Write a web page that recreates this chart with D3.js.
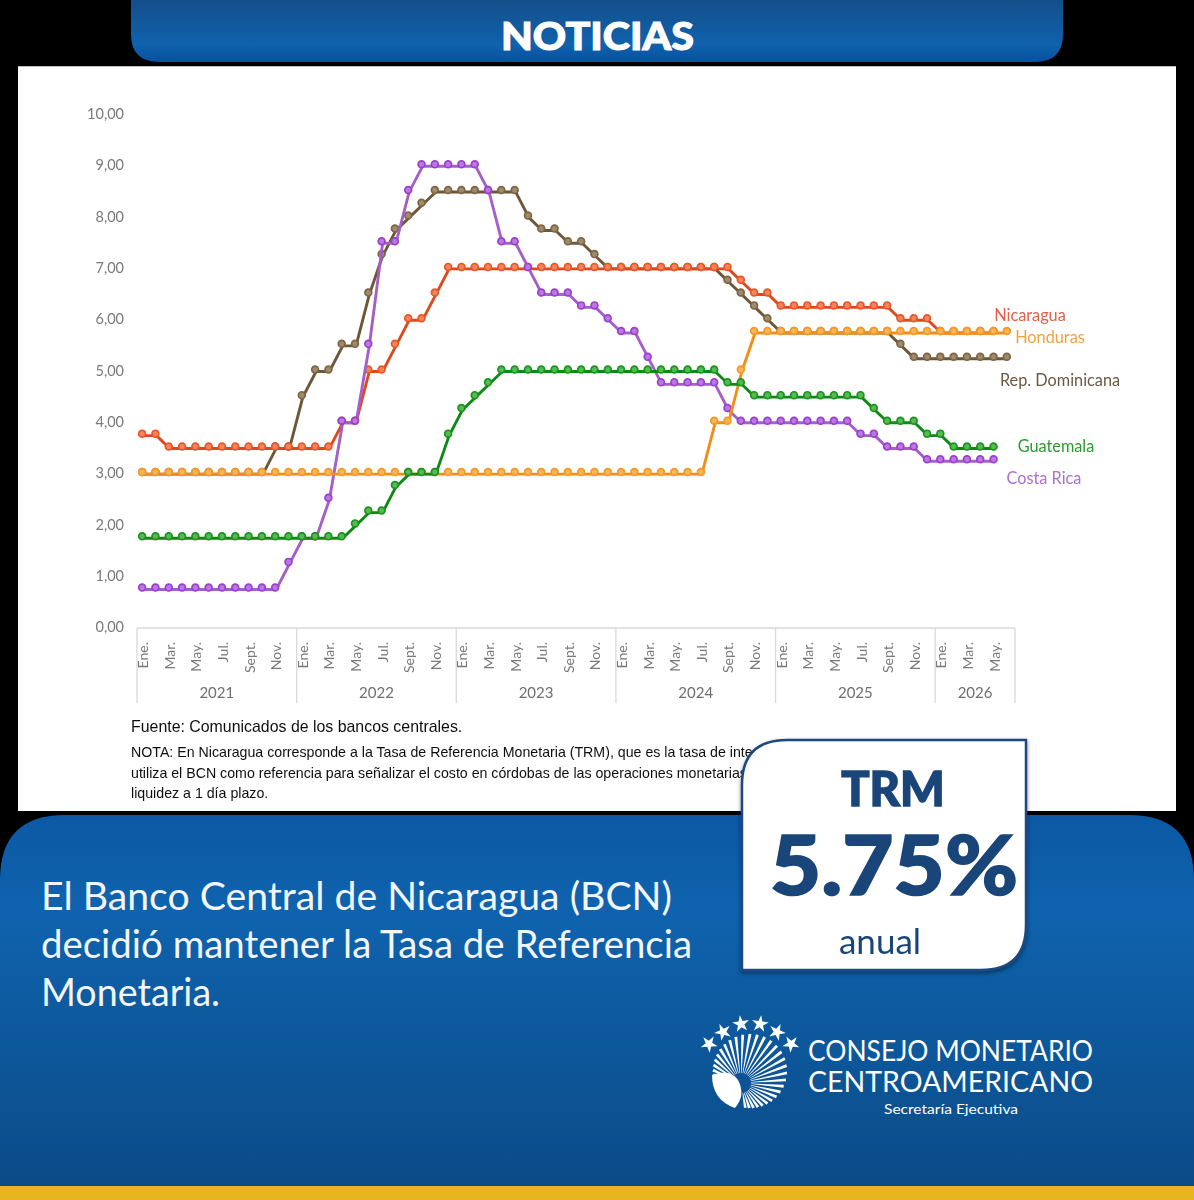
<!DOCTYPE html>
<html lang="es">
<head>
<meta charset="utf-8">
<title>Tasa de Referencia Monetaria</title>
<script src="https://cdn.jsdelivr.net/npm/d3@7/dist/d3.min.js"></script>
<style>
html,body{margin:0;padding:0;background:#000;}
svg{display:block;}
</style>
</head>
<body>
<div id="chart"></div>
<script>
const years = [2021, 2022, 2023, 2024, 2025, 2026];
const monthNames = ["Ene.", "Feb.", "Mar.", "Abr.", "May.", "Jun.", "Jul.", "Ago.", "Sept.", "Oct.", "Nov.", "Dic."];
const monthsInYear = [12, 12, 12, 12, 12, 6];
const yTicks = [0, 1, 2, 3, 4, 5, 6, 7, 8, 9, 10];

const repDominicana = [
  3,3,3,3,3,3,3,3,3,3,3.5,3.5,
  4.5,5,5,5.5,5.5,6.5,7.25,7.75,8,8.25,8.5,8.5,
  8.5,8.5,8.5,8.5,8.5,8,7.75,7.75,7.5,7.5,7.25,7,
  7,7,7,7,7,7,7,7,6.75,6.5,6.25,6,
  5.75,5.75,5.75,5.75,5.75,5.75,5.75,5.75,5.75,5.5,5.25,5.25,
  5.25,5.25,5.25,5.25,5.25,5.25];
const nicaragua = [
  3.75,3.75,3.5,3.5,3.5,3.5,3.5,3.5,3.5,3.5,3.5,3.5,
  3.5,3.5,3.5,4,4,5,5,5.5,6,6,6.5,7,
  7,7,7,7,7,7,7,7,7,7,7,7,
  7,7,7,7,7,7,7,7,7,6.75,6.5,6.5,
  6.25,6.25,6.25,6.25,6.25,6.25,6.25,6.25,6.25,6,6,6,
  5.75,5.75,5.75,5.75,5.75,null];
const costaRica = [
  0.75,0.75,0.75,0.75,0.75,0.75,0.75,0.75,0.75,0.75,0.75,1.25,
  1.75,1.75,2.5,4,4,5.5,7.5,7.5,8.5,9,9,9,
  9,9,8.5,7.5,7.5,7,6.5,6.5,6.5,6.25,6.25,6,
  5.75,5.75,5.25,4.75,4.75,4.75,4.75,4.75,4.25,4,4,4,
  4,4,4,4,4,4,3.75,3.75,3.5,3.5,3.5,3.25,
  3.25,3.25,3.25,3.25,3.25,null];
const honduras = [
  3,3,3,3,3,3,3,3,3,3,3,3,
  3,3,3,3,3,3,3,3,3,3,3,3,
  3,3,3,3,3,3,3,3,3,3,3,3,
  3,3,3,3,3,3,3,4,4,5,5.75,5.75,
  5.75,5.75,5.75,5.75,5.75,5.75,5.75,5.75,5.75,5.75,5.75,5.75,
  5.75,5.75,5.75,5.75,5.75,5.75];
const guatemala = [
  1.75,1.75,1.75,1.75,1.75,1.75,1.75,1.75,1.75,1.75,1.75,1.75,
  1.75,1.75,1.75,1.75,2,2.25,2.25,2.75,3,3,3,3.75,
  4.25,4.5,4.75,5,5,5,5,5,5,5,5,5,
  5,5,5,5,5,5,5,5,4.75,4.75,4.5,4.5,
  4.5,4.5,4.5,4.5,4.5,4.5,4.5,4.25,4,4,4,3.75,
  3.75,3.5,3.5,3.5,3.5,null];

const seriesNames = ["Rep. Dominicana", "Nicaragua", "Costa Rica", "Honduras", "Guatemala"];
const seriesValues = [repDominicana, nicaragua, costaRica, honduras, guatemala];
const lineColors = ["#6e5637", "#dd4a1f", "#a45fc9", "#f28e16", "#0f8a14"];
const dotStroke = ["#7d6546", "#e9562b", "#9a3fd0", "#f39a22", "#1c931f"];
const dotFill = ["#a08a6a", "#f4845a", "#bb78e0", "#f9b45c", "#55b955"];
const labelColors = ["#6b5a44", "#e4604a", "#ab70d0", "#f3a13a", "#2b9a2b"];
const labelPos = [[1060, 381], [1030, 316], [1044, 479], [1050, 338], [1056, 447]];

const headline = "NOTICIAS";
const bodyLines = ["El Banco Central de Nicaragua (BCN)", "decidió mantener la Tasa de Referencia", "Monetaria."];
const bodyWidths = [631, 651, 179];
const fuente = "Fuente: Comunicados de los bancos centrales.";
const nota = [
  "NOTA: En Nicaragua corresponde a la Tasa de Referencia Monetaria (TRM), que es la tasa de interés",
  "utiliza el BCN como referencia para señalizar el costo en córdobas de las operaciones monetarias",
  "liquidez a 1 día plazo."
];

const categories = [];
years.forEach((yr, yi) => d3.range(monthsInYear[yi]).forEach(m => categories.push({key: yr + "-" + m, year: yr, month: m})));

const svg = d3.select("#chart").append("svg").attr("width", 1194).attr("height", 1200).attr("viewBox", "0 0 1194 1200");
const defs = svg.append("defs");

function grad(id, stops) {
  const g = defs.append("linearGradient").attr("id", id).attr("x1", 0).attr("y1", 0).attr("x2", 0).attr("y2", 1);
  stops.forEach(s => g.append("stop").attr("offset", s[0]).attr("stop-color", s[1]));
}
grad("tab", [[0, "#144f8a"], [0.72, "#0f62ad"], [1, "#0a4f9f"]]);
grad("panel", [[0, "#0c58a4"], [0.25, "#0f63ae"], [1, "#0b4b87"]]);
const soft = defs.append("filter").attr("id", "soft").attr("x", "-2%").attr("y", "-2%").attr("width", "104%").attr("height", "104%");
soft.append("feGaussianBlur").attr("stdDeviation", 0.35);
const shadow = defs.append("filter").attr("id", "shadow").attr("x", "-5%").attr("y", "-5%").attr("width", "110%").attr("height", "110%");
shadow.append("feDropShadow").attr("dx", 0).attr("dy", 2).attr("stdDeviation", 2).attr("flood-color", "#000").attr("flood-opacity", 0.45);

// page frame
svg.append("rect").attr("width", 1194).attr("height", 1200).attr("fill", "#000");
svg.append("path").attr("fill", "url(#tab)")
  .attr("d", "M131,0H1063V34Q1063,62 1035,62H159Q131,62 131,34Z");
svg.append("rect").attr("x", 18).attr("y", 66).attr("width", 1158).attr("height", 745).attr("fill", "#fff");
svg.append("line").attr("x1", 18).attr("x2", 1176).attr("y1", 66.5).attr("y2", 66.5).attr("stroke", "#bdbdbd");
svg.append("path").attr("fill", "url(#panel)")
  .attr("d", "M0,1186V880Q0,815 65,815H1129Q1194,815 1194,880V1186Z");
svg.append("rect").attr("x", 0).attr("y", 1186).attr("width", 1194).attr("height", 14).attr("fill", "#e8b41f");

svg.append("text").attr("x", 501).attr("y", 50)
  .attr("textLength", 193).attr("lengthAdjust", "spacingAndGlyphs")
  .attr("font-family", "Lato").attr("font-weight", 900).attr("font-size", 37)
  .attr("fill", "#fff").attr("stroke", "#fff").attr("stroke-width", 1).text(headline);

// chart
const x = d3.scaleBand().domain(categories.map(c => c.key)).range([137, 1015]);
const y = d3.scaleLinear().domain([0, 10]).range([627, 114]);
const chart = svg.append("g").attr("filter", "url(#soft)");

const yAxis = d3.axisLeft(y).tickValues(yTicks).tickSize(0).tickPadding(0)
  .tickFormat(d => d3.format(".2f")(d).replace(".", ","));
const yG = chart.append("g").attr("transform", "translate(124,0)").call(yAxis);
yG.select(".domain").remove();
yG.selectAll("text").attr("font-family", "Lato").attr("font-size", 14.5).attr("fill", "#7a7a7a");

// category axis
const axisTop = 628, axisBottom = 703;
chart.append("line").attr("x1", 137).attr("x2", 1015).attr("y1", axisTop).attr("y2", axisTop).attr("stroke", "#d9d9d9").attr("stroke-width", 1.3);
const firstIdx = years.map(yr => categories.findIndex(c => c.year === yr));
const boundaries = firstIdx.map(i => x(categories[i].key)).concat([1015]);
chart.append("g").selectAll("line").data(boundaries).join("line")
  .attr("x1", d => d).attr("x2", d => d).attr("y1", axisTop).attr("y2", axisBottom)
  .attr("stroke", "#d9d9d9").attr("stroke-width", 1.3);
chart.append("g").selectAll("text").data(years).join("text")
  .attr("x", (d, i) => (boundaries[i] + boundaries[i + 1]) / 2).attr("y", 698)
  .attr("text-anchor", "middle").attr("font-family", "Lato").attr("font-size", 15).attr("fill", "#6f6f6f").text(d => d);
chart.append("g").selectAll("text").data(categories.filter(c => c.month % 2 === 0)).join("text")
  .attr("transform", d => `translate(${x(d.key) + x.bandwidth() / 2 + 4.5},642) rotate(-90)`)
  .attr("text-anchor", "end").attr("font-family", "Lato").attr("font-size", 14).attr("fill", "#7a7a7a")
  .text(d => monthNames[d.month]);

// series
const line = d3.line().defined(d => d != null).x((d, i) => x(categories[i].key) + x.bandwidth() / 2).y(d => y(d));
seriesValues.forEach((vals, s) => {
  const g = chart.append("g").attr("class", "series");
  g.append("path").datum(vals).attr("d", line).attr("transform", "translate(-0.5,1)")
    .attr("fill", "none").attr("stroke", lineColors[s]).attr("stroke-width", 2.9).attr("stroke-linejoin", "round");
  g.append("g").attr("transform", "translate(-1.5,-1)").selectAll("circle")
    .data(vals.map((v, i) => ({v, i})).filter(d => d.v != null)).join("circle")
    .attr("cx", d => x(categories[d.i].key) + x.bandwidth() / 2).attr("cy", d => y(d.v)).attr("r", 3.4)
    .attr("fill", dotFill[s]).attr("stroke", dotStroke[s]).attr("stroke-width", 1.7);
});
chart.append("g").selectAll("text").data(seriesNames).join("text")
  .attr("x", (d, i) => labelPos[i][0]).attr("y", (d, i) => labelPos[i][1] + 5)
  .attr("text-anchor", "middle").attr("font-family", "Lato").attr("font-size", 16.3)
  .attr("fill", (d, i) => labelColors[i]).text(d => d);

// notes
chart.append("text").attr("x", 131).attr("y", 732).attr("font-family", "Liberation Sans").attr("font-size", 15.9).attr("fill", "#111").text(fuente);
chart.append("g").selectAll("text").data(nota).join("text")
  .attr("x", 131).attr("y", (d, i) => [757, 778, 798][i]).attr("font-family", "Liberation Sans").attr("font-size", 14.2).attr("fill", "#111").text(d => d);

// body text
svg.append("g").selectAll("text").data(bodyLines).join("text")
  .attr("x", 41).attr("y", (d, i) => 910 + i * 48).attr("textLength", (d, i) => bodyWidths[i]).attr("lengthAdjust", "spacingAndGlyphs")
  .attr("font-family", "Lato").attr("font-size", 38).attr("fill", "#f2f6fb").text(d => d);

// callout
svg.append("path").attr("filter", "url(#shadow)").attr("fill", "#fff").attr("stroke", "#1c4a80").attr("stroke-width", 2.5)
  .attr("d", "M742,785Q742,740 787,740H1026V925Q1026,970 981,970H742Z");
const navy = "#1a4579";
svg.append("text").attr("x", 893).attr("y", 806).attr("text-anchor", "middle").attr("font-family", "Lato").attr("font-weight", 900).attr("font-size", 47)
  .attr("fill", navy).attr("stroke", navy).attr("stroke-width", 1.4).text("TRM");
svg.append("text").attr("x", 770).attr("y", 895).attr("textLength", 248).attr("lengthAdjust", "spacingAndGlyphs").attr("font-family", "Lato").attr("font-weight", 900).attr("font-size", 82)
  .attr("fill", navy).attr("stroke", navy).attr("stroke-width", 1.6).text("5.75%");
svg.append("text").attr("x", 880).attr("y", 954).attr("text-anchor", "middle").attr("font-family", "Lato").attr("font-size", 35).attr("fill", navy).text("anual");

// logo
const logo = svg.append("g").attr("fill", "#fff");
const starAt = [[709, 1044], [723, 1032], [741, 1024], [760, 1024], [777, 1032], [791, 1044]];
const star = d3.symbol().type(d3.symbolStar).size(88);
logo.selectAll("path.star").data(starAt).join("path").attr("class", "star")
  .attr("d", star).attr("transform", (d, i) => `translate(${d[0]},${d[1]}) rotate(${-40 + i * 16})`);
const F = [741, 1083], C = [750, 1071], R = 37;
const rayAngles = d3.range(-172, 82, 8.4);
logo.selectAll("path.ray").data(rayAngles).join("path").attr("class", "ray").attr("d", a => {
  const t = a * Math.PI / 180;
  const ux = Math.cos(t), uy = Math.sin(t);
  const fx = F[0] - C[0], fy = F[1] - C[1];
  const b = fx * ux + fy * uy, c = fx * fx + fy * fy - R * R;
  const len = -b + Math.sqrt(b * b - c);
  const nx = -uy, ny = ux;
  const r0 = 10, w0 = 0.25, w1 = 1.45;
  return d3.line()([
    [F[0] + ux * r0 + nx * w0, F[1] + uy * r0 + ny * w0],
    [F[0] + ux * len + nx * w1, F[1] + uy * len + ny * w1],
    [F[0] + ux * len - nx * w1, F[1] + uy * len - ny * w1],
    [F[0] + ux * r0 - nx * w0, F[1] + uy * r0 - ny * w0]
  ]) + "Z";
});
logo.append("path").attr("d", "M712,1075Q730,1068 738,1080Q746,1095 735,1108Q712,1100 712,1075Z");
logo.append("text").attr("x", 808).attr("y", 1061).attr("textLength", 285).attr("lengthAdjust", "spacingAndGlyphs").attr("font-family", "Lato").attr("font-size", 28).text("CONSEJO MONETARIO");
logo.append("text").attr("x", 808).attr("y", 1092).attr("textLength", 285).attr("lengthAdjust", "spacingAndGlyphs").attr("font-family", "Lato").attr("font-size", 28).text("CENTROAMERICANO");
logo.append("text").attr("x", 884).attr("y", 1114).attr("textLength", 134).attr("lengthAdjust", "spacingAndGlyphs").attr("font-family", "Lato").attr("font-size", 14).text("Secretaría Ejecutiva");
</script>
</body>
</html>
